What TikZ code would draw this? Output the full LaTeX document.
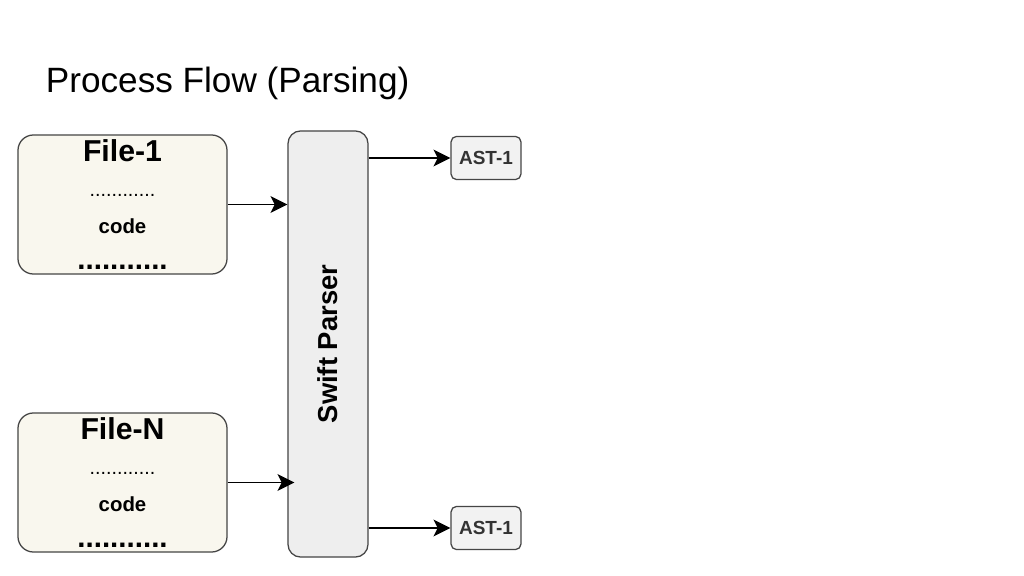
\documentclass[tikz,border=0pt]{standalone}
\usepackage{fontspec}
\setmainfont{Liberation Sans}
\usetikzlibrary{arrows.meta,positioning,calc}

\definecolor{filefill}{HTML}{F9F7EE}
\definecolor{parserfill}{HTML}{EEEEEE}
\definecolor{astfill}{HTML}{F2F2F2}
\definecolor{edgegray}{HTML}{454545}

\tikzset{
    filebox/.style={draw=edgegray, line width=0.9pt, fill=filefill, rounded corners=11pt,
                    minimum width=5.225cm, minimum height=3.475cm},
    parserbox/.style={draw=edgegray, line width=0.9pt, fill=parserfill, rounded corners=9pt,
                    minimum width=2cm, minimum height=10.65cm},
    astbox/.style={draw=edgegray, line width=0.9pt, fill=astfill, rounded corners=4pt,
                    minimum width=1.75cm, minimum height=1.08cm, font=\fontsize{13.5}{15}\bfseries, text=black!80},
    flow/.style={-{Stealth[length=12pt,width=12pt,inset=3pt]}, line width=1.3pt, black},
}

\begin{document}
\begin{tikzpicture}[x=0.025cm, y=-0.025cm]
    \useasboundingbox[fill=white] (0,0) rectangle (1024,576);

    % title
    \node[anchor=base west, font=\fontsize{25}{30}\selectfont] (title) at (41,93) {Process Flow (Parsing)};

    % input files
    \node[filebox] (file1) at (122.5,204.5) {};
    \node[filebox] (fileN) at (122.5,482.5) {};

    \foreach \f/\name in {file1/File-1, fileN/File-N} {
        \node[font=\fontsize{21.5}{24}\bfseries] (\f title) at ($(\f.north)+(0,16)$) {\name};
        \node[font=\fontsize{14}{16}\selectfont, anchor=base] (\f dots) at ($(\f.north)+(0,62)$) {............};
        \node[font=\fontsize{14.5}{16}\bfseries] (\f code) at ($(\f.north)+(0,92)$) {code};
        \node[font=\fontsize{21}{24}\bfseries, anchor=base] (\f end) at ($(\f.north)+(0,135)$) {...........};
    }

    % parser
    \node[parserbox] (parser) at (328,344) {};
    \node[rotate=90, font=\fontsize{19.5}{22}\bfseries] (ptext) at (parser.center) {Swift Parser};

    % outputs
    \node[astbox] (ast1) at (486,158) {AST-1};
    \node[astbox] (astN) at (486,528) {AST-1};

    \draw[flow] (file1.east) -- (file1.east -| parser.west);
    \draw[flow] (fileN.east) -- ($(fileN.east -| parser.west)+(7,0)$);
    \draw[flow] (parser.east |- ast1.west) -- (ast1.west);
    \draw[flow] (parser.east |- astN.west) -- (astN.west);
\end{tikzpicture}
\end{document}
